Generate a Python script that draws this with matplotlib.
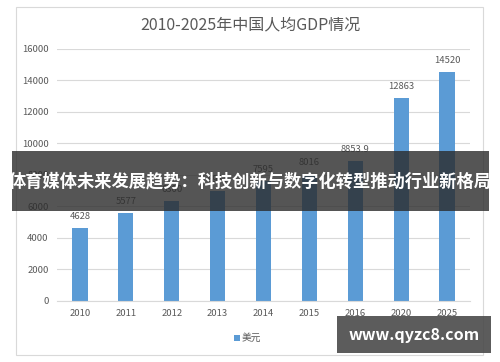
import matplotlib
matplotlib.use("Agg")
import matplotlib.pyplot as plt
from matplotlib.patches import Rectangle

plt.rcParams['font.family'] = ['Noto Sans CJK SC', 'DejaVu Sans']

years = ["2010", "2011", "2012", "2013", "2014", "2015", "2016", "2020", "2025"]
gdp = [4628, 5577, 6300, 6935, 7595, 8016, 8853.9, 12863, 14520]
labels = ["4628", "5577", "6300", "6935", "7595", "8016", "8853.9", "12863", "14520"]

BLUE = "#5B9BD5"
GREY = "#595959"

fig = plt.figure(figsize=(5, 3.62), dpi=100)

# outer chart frame
fig.patches.append(Rectangle((16/500, 7/362), 467/500, 348/362, transform=fig.transFigure,
                             facecolor="white", edgecolor="#D9D9D9", lw=0.8, zorder=-1))

ax = fig.add_axes([57/500, 61.5/362, 413/500, 251.5/362])
ax.set_facecolor("none")
x = range(len(years))
ax.bar(x, gdp, width=0.33, color=BLUE, zorder=2)
for xi, v, t in zip(x, gdp, labels):
    ax.text(xi, v + 450, t, ha="center", va="bottom", fontsize=6.8, color=GREY)

ax.set_xlim(-0.5, len(years) - 0.5)
ax.set_ylim(0, 16000)
ax.set_yticks(range(0, 16001, 2000))
ax.set_xticks(list(x))
ax.set_xticklabels(years)
ax.grid(axis="y", color="#D9D9D9", lw=0.8, zorder=0)
for s in ["top", "right", "left"]:
    ax.spines[s].set_visible(False)
ax.spines["bottom"].set_color("#D9D9D9")
ax.tick_params(length=0, labelsize=6.8, colors=GREY, pad=6)

fig.text(0.5, 337/362, "2010-2025年中国人均GDP情况", ha="center", va="center",
         fontsize=11.5, color=GREY)

# legend
fig.patches.append(Rectangle((234/500, 21/362), 6/500, 6/362, transform=fig.transFigure,
                             facecolor=BLUE, edgecolor="none"))
fig.text(242/500, 24/362, "美元", ha="left", va="center", fontsize=7, color=GREY)

# banner overlay
fig.patches.append(Rectangle((12/500, 151/362), 477/500, 60/362, transform=fig.transFigure,
                             facecolor="#2b2b2b", alpha=0.8, edgecolor="none", zorder=5))
fig.text(0.5, 181/362, "体育媒体未来发展趋势：科技创新与数字化转型推动行业新格局",
         ha="center", va="center", fontsize=12.4, fontweight="bold", color="white", zorder=6)

# watermark
fig.patches.append(Rectangle((337/500, 9/362), 154/500, 37/362, transform=fig.transFigure,
                             facecolor="#4a4a4a", alpha=0.9, edgecolor="none", zorder=5))
fig.text(414/500, 27/362, "www.qyzc8.com", ha="center", va="center",
         fontsize=11.5, fontweight="bold", color="white", zorder=6)

fig.savefig("out.png", dpi=100)
